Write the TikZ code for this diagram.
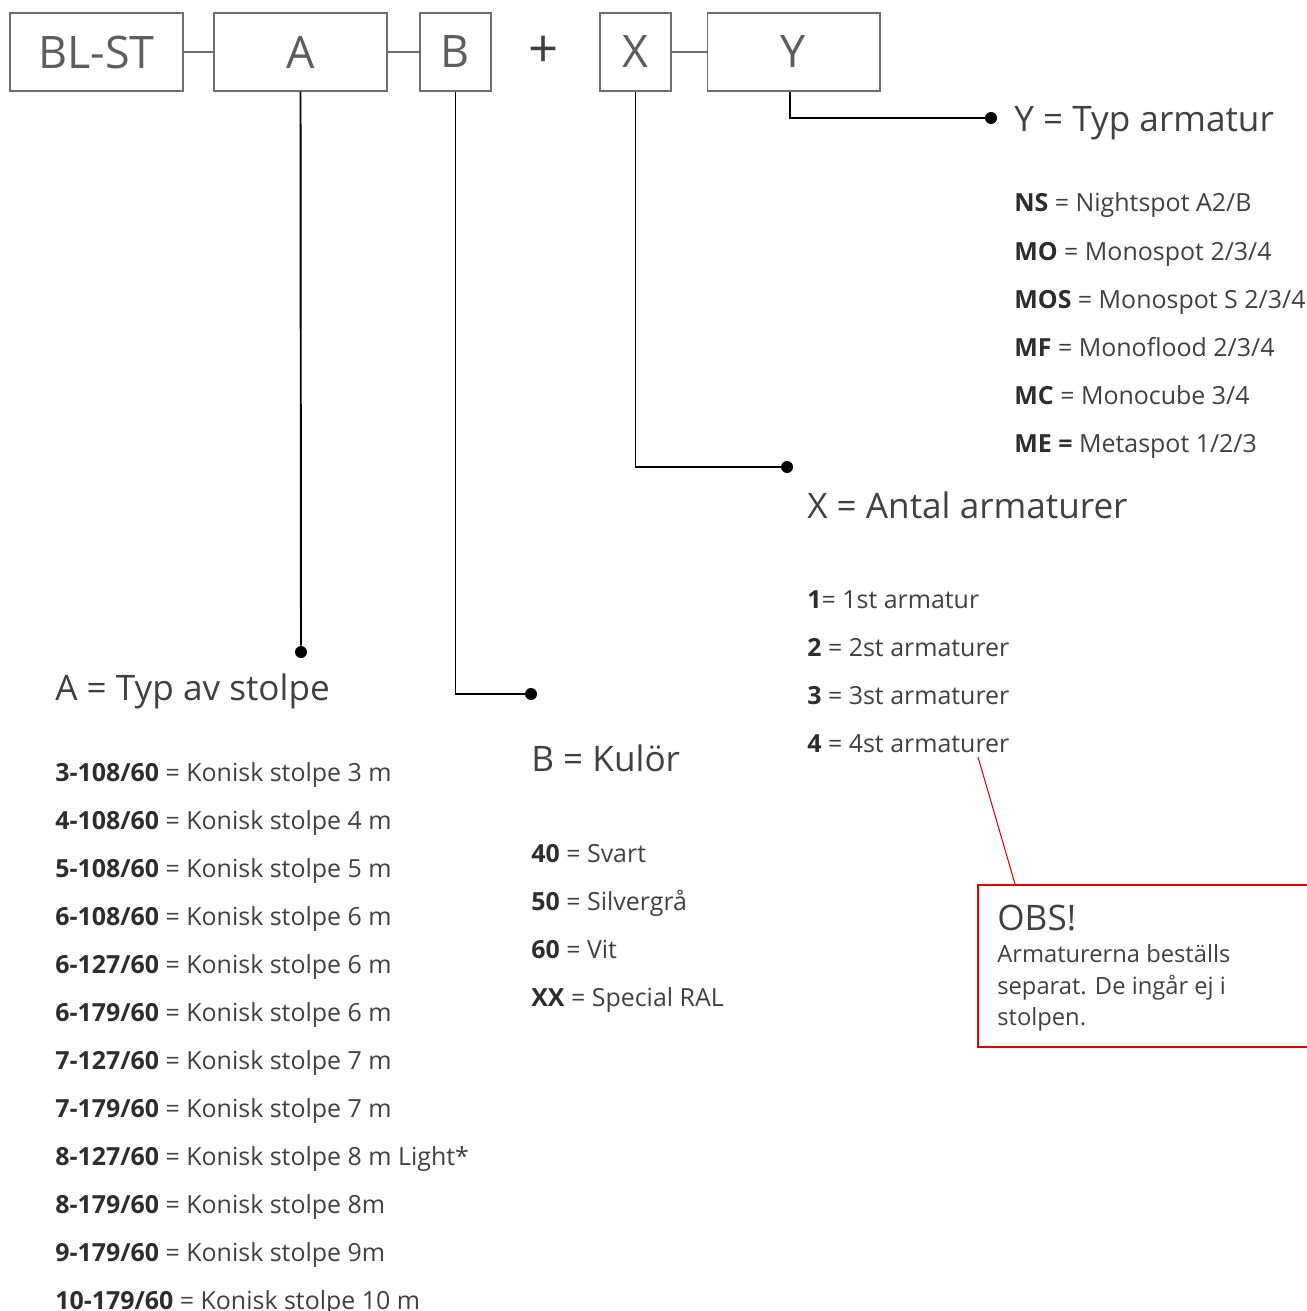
\documentclass[tikz,border=0pt]{standalone}
\usepackage{fontspec}
\setmainfont{Open Sans}
\definecolor{textgray}{RGB}{64, 64, 64}
\definecolor{codegray}{RGB}{45, 45, 45}
\definecolor{framegray}{RGB}{110, 110, 110}
\definecolor{obsred}{RGB}{230, 0, 0}
\usetikzlibrary{positioning, calc}
\newcommand{\itemcode}[1]{\textcolor{codegray}{\textbf{#1}}}

\begin{document}
\begin{tikzpicture}[x=0.02cm, y=-0.02cm,
    codebox/.style={draw=framegray, line width=0.6pt, inner sep=0pt, minimum height=1.56cm, text=textgray!85, font=\fontsize{25.5}{28}\selectfont},
    joint/.style={draw=framegray, line width=0.6pt},
    leader/.style={draw=black, line width=1.1pt},
    dot/.style={circle, fill=black, inner sep=0pt, minimum size=0.24cm},
    heading/.style={anchor=base west, inner sep=0pt, text=textgray, font=\fontsize{20}{23}\selectfont},
    listitem/.style={anchor=base west, inner sep=0pt, text=textgray, font=\fontsize{14.2}{17}\selectfont},
    obsline/.style={draw=obsred, line width=0.6pt}]
  \useasboundingbox (0,0) rectangle (1306,1311);

  \node[codebox, minimum width=3.46cm] (blst) at (96.5,52) {BL-ST};
  \node[codebox, minimum width=3.46cm] (boxa) at (300.5,52) {A};
  \node[codebox, minimum width=1.42cm] (boxb) at (455.5,52) {B};
  \node[inner sep=0pt, text=textgray, font=\fontsize{30}{32}\selectfont] (plus) at (544,52) {+};
  \node[codebox, minimum width=1.42cm] (boxx) at (635.5,52) {X};
  \node[codebox, minimum width=3.46cm] (boxy) at (793.5,52) {Y};
  \draw[joint] (blst) -- (boxa);
  \draw[joint] (boxa) -- (boxb);
  \draw[joint] (boxx) -- (boxy);

  \node[dot] (dota) at (301,652) {};
  \node[dot] (dotb) at (531,694) {};
  \node[dot] (dotx) at (787,467) {};
  \node[dot] (doty) at (991,118) {};
  \draw[leader] (boxa.south) -- (dota);
  \draw[leader] (boxb.south) |- (dotb);
  \draw[leader] (boxx.south) |- (dotx);
  \draw[leader] ($(boxy.south)+(-3.5,0)$) |- (doty);

  \node[heading] (heady) at (1014,132) {Y = Typ armatur};
  \node[heading] (headx) at (807,518) {X = Antal armaturer};
  \node[heading] (heada) at (55,700) {A = Typ av stolpe};
  \node[heading] (headb) at (531,771) {B = Kulör};

  \foreach \txt [count=\i from 0] in {
      {\itemcode{NS} = Nightspot A2/B},
      {\itemcode{MO} = Monospot 2/3/4},
      {\itemcode{MOS} = Monospot S 2/3/4},
      {\itemcode{MF} = Monoflood 2/3/4},
      {\itemcode{MC} = Monocube 3/4},
      {\itemcode{ME =} Metaspot 1/2/3}}
    \node[listitem] (armtyp-\i) at (1014,{212+48*\i}) {\txt};

  \foreach \txt [count=\i from 0] in {
      {\itemcode{1}= 1st armatur},
      {\itemcode{2} = 2st armaturer},
      {\itemcode{3} = 3st armaturer},
      {\itemcode{4} = 4st armaturer}}
    \node[listitem] (antal-\i) at (807,{608+48*\i}) {\txt};

  \foreach \txt [count=\i from 0] in {
      {\itemcode{3-108/60} = Konisk stolpe 3 m},
      {\itemcode{4-108/60} = Konisk stolpe 4 m},
      {\itemcode{5-108/60} = Konisk stolpe 5 m},
      {\itemcode{6-108/60} = Konisk stolpe 6 m},
      {\itemcode{6-127/60} = Konisk stolpe 6 m},
      {\itemcode{6-179/60} = Konisk stolpe 6 m},
      {\itemcode{7-127/60} = Konisk stolpe 7 m},
      {\itemcode{7-179/60} = Konisk stolpe 7 m},
      {\itemcode{8-127/60} = Konisk stolpe 8 m Light*},
      {\itemcode{8-179/60} = Konisk stolpe 8m},
      {\itemcode{9-179/60} = Konisk stolpe 9m},
      {\itemcode{10-179/60} = Konisk stolpe 10 m}}
    \node[listitem] (stolpe-\i) at (55,{781+48*\i}) {\txt};

  \foreach \txt [count=\i from 0] in {
      {\itemcode{40} = Svart},
      {\itemcode{50} = Silvergrå},
      {\itemcode{60} = Vit},
      {\itemcode{XX} = Special RAL}}
    \node[listitem] (kulor-\i) at (531,{862+48*\i}) {\txt};

  \node[draw=obsred, line width=1.1pt, inner sep=0pt, minimum width=6.9cm, minimum height=3.24cm, anchor=north west] (obs) at (977,884) {};
  \coordinate (obstip) at (978,757);
  \draw[obsline] (obstip) -- ($(obs.north west)+(38,0)$);
  \node[heading] (obstitle) at (997,930) {OBS!};
  \node[anchor=north west, inner sep=0pt, align=left, text=textgray, font=\fontsize{13.5}{18.1}\selectfont] (obstext) at (997,944) {Armaturerna beställs\\separat. De ingår ej i\\stolpen.};
\end{tikzpicture}
\end{document}
